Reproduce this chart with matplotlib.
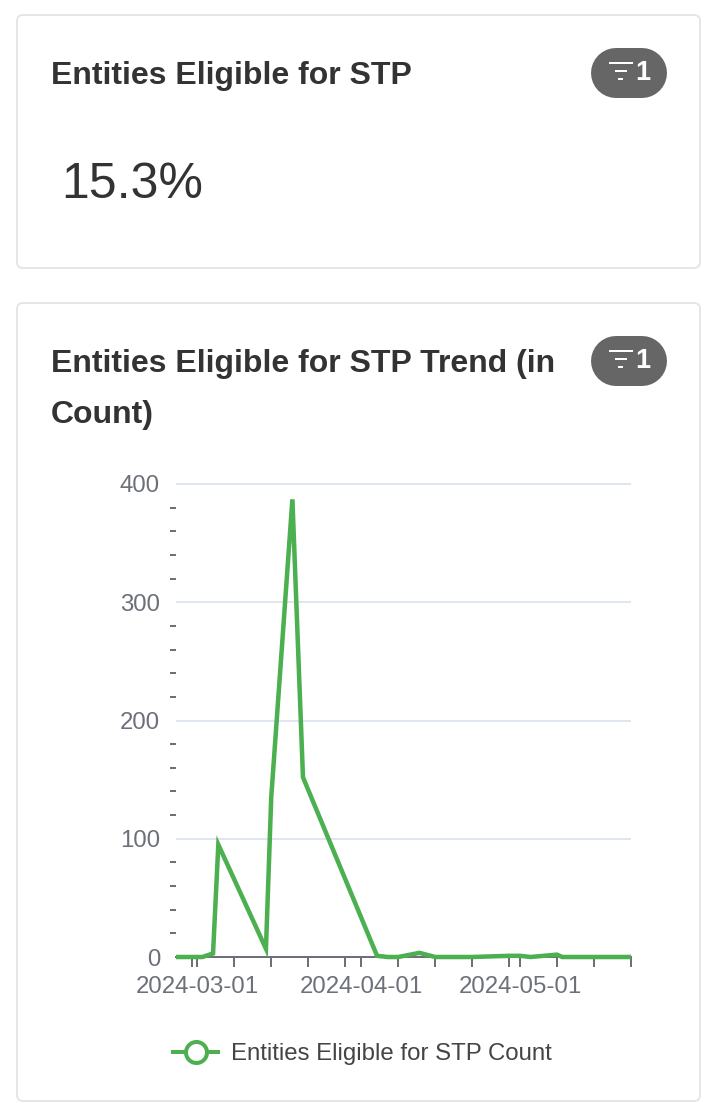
import matplotlib
matplotlib.use("Agg")
import matplotlib.pyplot as plt
import matplotlib.dates as mdates
from matplotlib.patches import FancyBboxPatch
from matplotlib.lines import Line2D
from matplotlib.ticker import FixedLocator, MultipleLocator, NullFormatter
import pandas as pd

plt.rcParams['font.family'] = ['Liberation Sans', 'DejaVu Sans']

W, H = 718, 1116
PX = 72 / 100

kpi_title = "Entities Eligible for STP"
kpi_value = "15.3%"
trend_title = ["Entities Eligible for STP Trend (in", "Count)"]
series_name = "Entities Eligible for STP Count"
filter_count = "1"

dates = ["2024-02-26", "2024-03-02", "2024-03-04", "2024-03-05", "2024-03-14", "2024-03-15",
         "2024-03-19", "2024-03-21", "2024-04-04", "2024-04-06", "2024-04-08", "2024-04-12",
         "2024-04-15", "2024-04-22", "2024-04-29", "2024-05-01", "2024-05-03", "2024-05-08",
         "2024-05-09", "2024-05-15", "2024-05-22"]
counts = [0, 0, 3, 95, 7, 135, 387, 152, 1, 0, 0, 3.5, 0, 0, 1, 1, 0, 2, 0, 0, 0]

tick_dates = ["2024-02-29", "2024-03-01", "2024-03-08", "2024-03-15", "2024-03-22", "2024-03-29",
              "2024-04-01", "2024-04-08", "2024-04-15", "2024-04-22", "2024-04-29", "2024-05-01",
              "2024-05-08", "2024-05-15", "2024-05-22"]
labelled_dates = ["2024-03-01", "2024-04-01", "2024-05-01"]
x_start, x_end = "2024-02-26", "2024-05-22"
y_ticks = [0, 100, 200, 300, 400]

fig = plt.figure(figsize=(W / 100, H / 100), dpi=100, facecolor="white")

# page overlay in pixel coordinates
bg = fig.add_axes([0, 0, 1, 1], zorder=0)
bg.set_xlim(0, W)
bg.set_ylim(H, 0)
bg.axis("off")


def card(x0, y0, x1, y1):
    bg.add_patch(FancyBboxPatch((x0 + 6, y0 + 6), x1 - x0 - 12, y1 - y0 - 12,
                                boxstyle="round,pad=6,rounding_size=6",
                                fc="white", ec="#E6E6E6", lw=2 * PX))


def badge(yc):
    bg.add_line(Line2D([616, 642], [yc, yc], color="#666666", lw=50 * PX,
                       solid_capstyle="round"))
    for x0, x1, dy in [(609, 633, -10), (615, 627, -2), (618, 623, 6)]:
        bg.add_line(Line2D([x0, x1], [yc + dy, yc + dy], color="white", lw=2 * PX,
                           solid_capstyle="butt"))
    bg.text(643, yc, filter_count, color="white", fontsize=27 * PX, fontweight="bold",
            ha="center", va="center")


card(17, 15, 700, 268)
card(17, 303, 700, 1101)
badge(73)
badge(361)

title_kw = dict(color="#333333", fontsize=32 * PX, fontweight="bold", ha="left", va="center")
bg.text(51, 76, kpi_title, **title_kw)
bg.text(51, 364, trend_title[0], **title_kw)
bg.text(51, 415, trend_title[1], **title_kw)
bg.text(61, 185, kpi_value, color="#333333", fontsize=50 * PX, ha="left", va="center")

# chart
ax = fig.add_axes([176 / W, 1 - 957 / H, (631 - 176) / W, (957 - 484) / H], zorder=2)
ax.patch.set_alpha(0)
x = pd.to_datetime(dates)
ax.plot(x, counts, color="#4CAF50", lw=4.5 * PX, clip_on=False, zorder=5,
        solid_joinstyle="miter", solid_capstyle="butt", label=series_name)
ax.set_xlim(pd.Timestamp(x_start), pd.Timestamp(x_end))
ax.set_ylim(0, 400)

for s in ("top", "right", "left"):
    ax.spines[s].set_visible(False)
ax.spines["bottom"].set_color("#6E7079")
ax.spines["bottom"].set_linewidth(2 * PX)

ax.yaxis.set_major_locator(FixedLocator(y_ticks))
ax.yaxis.set_minor_locator(MultipleLocator(20))
ax.yaxis.set_minor_formatter(NullFormatter())
ax.tick_params(axis="y", which="major", length=0, pad=16 * PX, labelsize=24 * PX,
               labelcolor="#6E7079")
ax.tick_params(axis="y", which="minor", length=6 * PX, width=2 * PX, color="#6E7079")
ax.grid(axis="y", which="major", color="#E0E6F1", lw=2 * PX)
ax.set_axisbelow(True)
for g in ax.get_ygridlines():
    g.set_clip_on(False)
    g.set_solid_capstyle("butt")

tick_nums = [mdates.date2num(pd.Timestamp(d)) for d in tick_dates]
ax.xaxis.set_major_locator(FixedLocator(tick_nums))
ax.set_xticklabels([d if d in labelled_dates else "" for d in tick_dates])
ax.tick_params(axis="x", which="major", length=10 * PX, width=2 * PX, color="#6E7079",
               labelsize=24 * PX, labelcolor="#6E7079", pad=9 * PX)

ax.legend(handles=[Line2D([0], [0], color="#4CAF50", lw=4 * PX, marker="o", markersize=21 * PX,
                          markerfacecolor="white", markeredgecolor="#4CAF50",
                          markeredgewidth=4 * PX, solid_capstyle="butt", label=series_name)],
          loc="center", bbox_to_anchor=((361.5 - 176) / 455, -(1054 - 957) / 473),
          frameon=False, fontsize=24 * PX, labelcolor="#444444", handlelength=2.05,
          handletextpad=0.45)

fig.savefig("out.png", dpi=100)
